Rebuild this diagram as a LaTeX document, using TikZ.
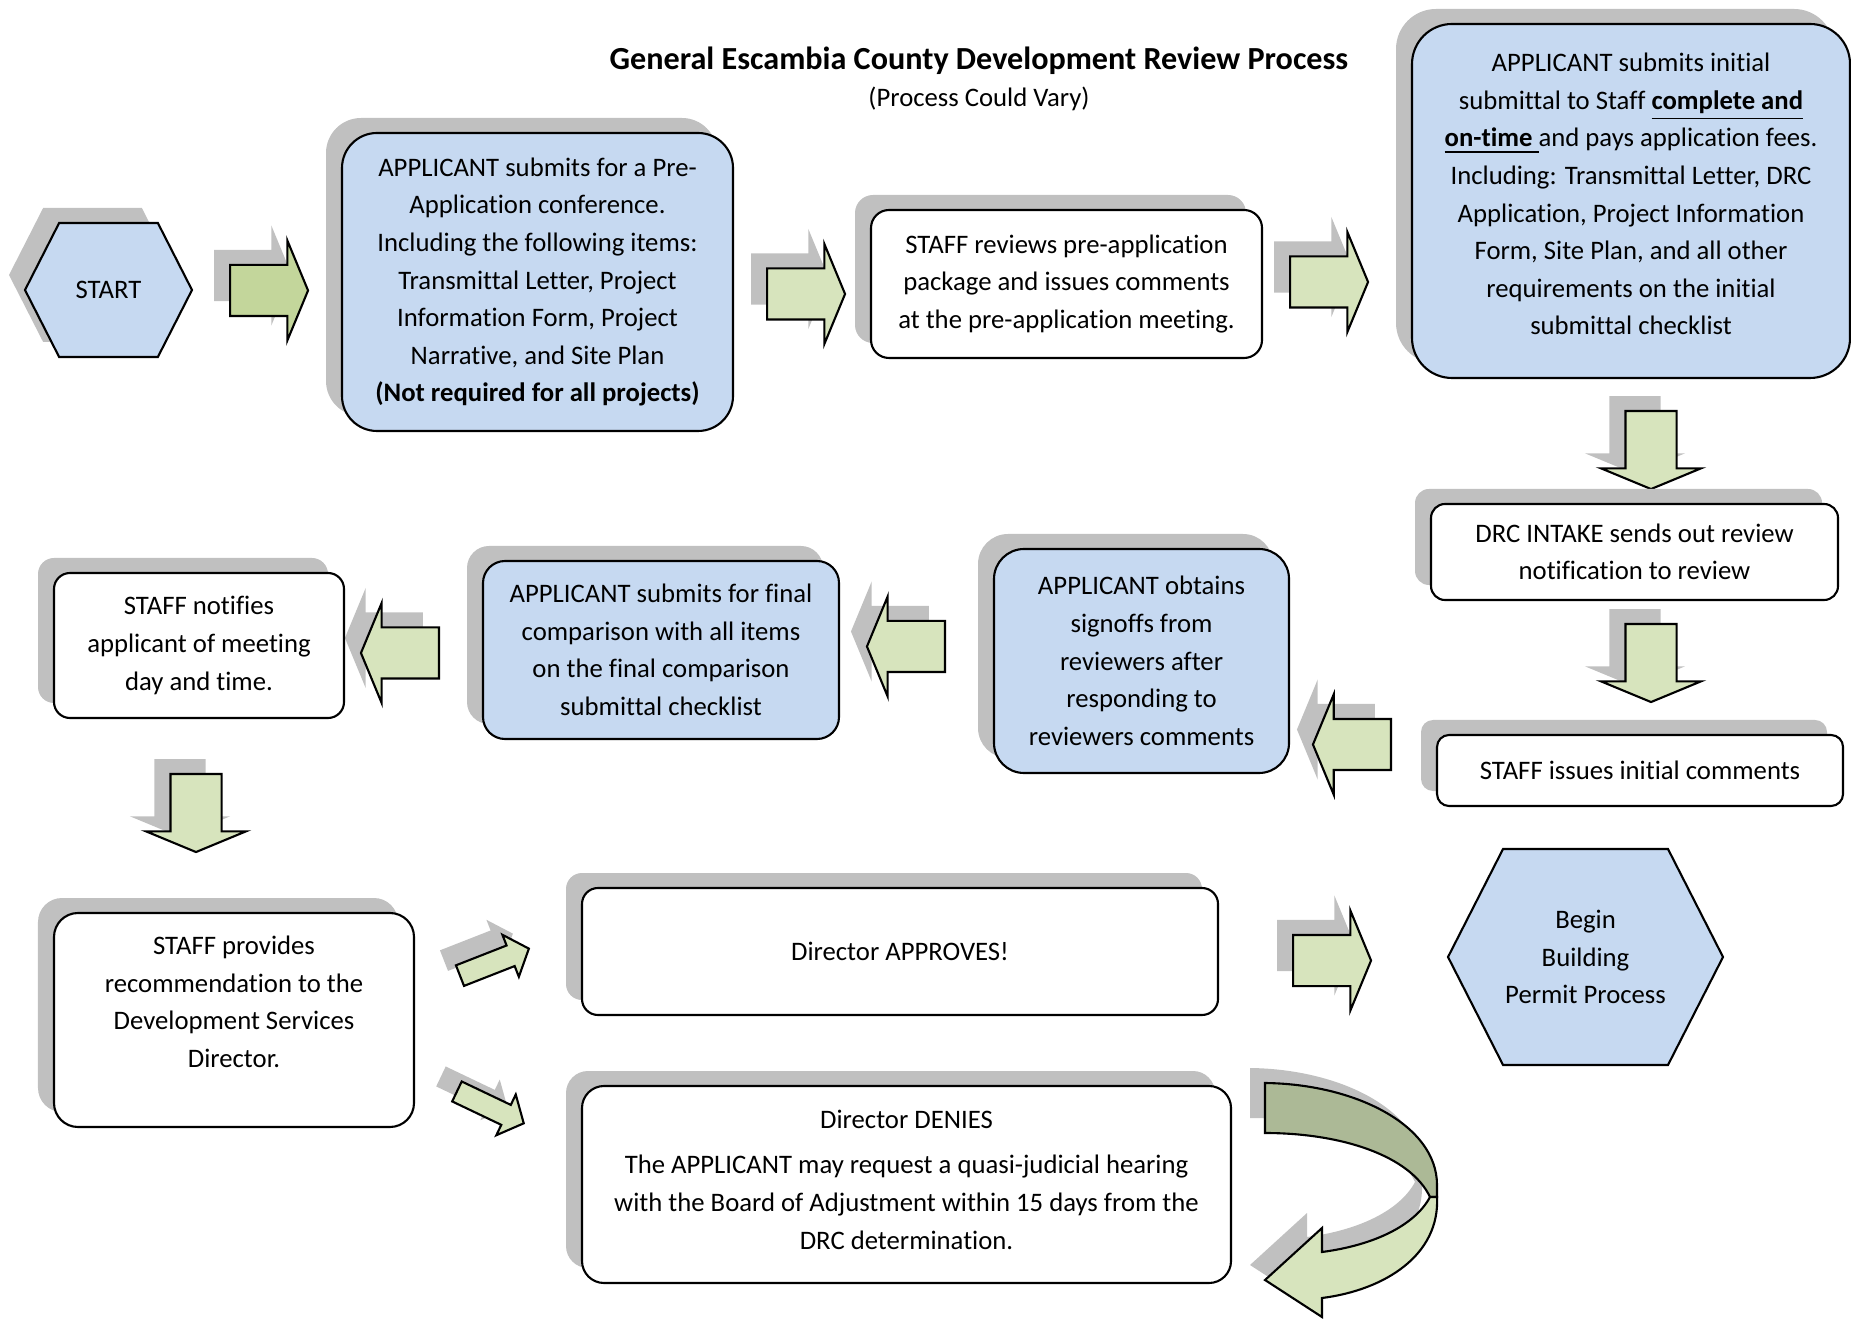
\documentclass[tikz,border=0pt]{standalone}
\usepackage{fontspec}
\setmainfont{Carlito}[Ligatures=NoCommon]
\usepackage{tikz}
\usetikzlibrary{shapes.arrows, shapes.symbols, shadows, positioning}

\definecolor{boxblue}{RGB}{198,217,241}
\definecolor{arrowgreen}{RGB}{215,228,189}
\definecolor{startgreen}{RGB}{195,214,155}
\definecolor{bendgreen}{RGB}{172,185,150}
\definecolor{shadowgray}{RGB}{192,192,192}

\begin{document}
\begin{tikzpicture}[x=1cm, y=-1cm,
  font=\fontsize{7.6}{10.7}\selectfont,
  boxshadow/.style={drop shadow={fill=shadowgray, opacity=1, shadow xshift=-0.16cm, shadow yshift=0.15cm}},
  procbox/.style={draw, line width=0.6pt, align=center, inner sep=0pt, boxshadow},
  bluebox/.style={procbox, fill=boxblue},
  whitebox/.style={procbox, fill=white},
  hexbox/.style={signal, signal to=west and east, signal pointer angle=126, draw, line width=0.6pt, fill=boxblue, align=center, inner sep=0pt},
  blockarrow/.style={single arrow, draw, line width=0.6pt, fill=arrowgreen, inner sep=0.245cm, single arrow head extend=0.245cm, single arrow tip angle=135, minimum height=0.78cm, anchor=tail, boxshadow},
  slimarrow/.style={blockarrow, inner sep=0.10cm, single arrow head extend=0.115cm, single arrow tip angle=98, minimum height=0.74cm}
]
\useasboundingbox (0,0) rectangle (18.51,13.26);

% Title
\node[font=\fontsize{9.15}{11}\selectfont\bfseries] (title) at (9.79,0.605) {General Escambia County Development Review Process};
\node (subtitle) at (9.79,0.99) {(Process Could Vary)};

% Top row
\node[hexbox, minimum width=1.67cm, minimum height=1.34cm, boxshadow] (start) at (1.085,2.90) {START};
\node[blockarrow, fill=startgreen] (arr1) at (2.29,2.905) {};
\node[bluebox, minimum width=3.91cm, minimum height=2.98cm, rounded corners=0.35cm] (pre) at (5.375,2.82)
  {APPLICANT submits for a Pre-\\Application conference.\\Including the following items:\\Transmittal Letter, Project\\Information Form, Project\\Narrative, and Site Plan\\\textbf{(Not required for all projects)}};
\node[blockarrow] (arr2) at (7.66,2.94) {};
\node[whitebox, minimum width=3.91cm, minimum height=1.48cm, rounded corners=0.18cm] (review) at (10.665,2.84)
  {STAFF reviews pre-application\\package and issues comments\\at the pre-application meeting.};
\node[blockarrow] (arr3) at (12.89,2.82) {};
\node[bluebox, minimum width=4.38cm, minimum height=3.54cm, rounded corners=0.4cm] (initial) at (16.31,2.01)
  {APPLICANT submits initial\\submittal to Staff \underline{\textbf{complete and}}\\\underline{\textbf{on-time\ }}and pays application fees.\\Including: Transmittal Letter, DRC\\Application, Project Information\\Form, Site Plan, and all other\\requirements on the initial\\submittal checklist\\[-0.237cm]\mbox{}};

% Right column
\node[blockarrow, shape border rotate=270] (arr4) at (16.51,4.10) {};
\node[whitebox, minimum width=4.07cm, minimum height=0.96cm, rounded corners=0.14cm] (intake) at (16.345,5.52)
  {DRC INTAKE sends out review\\notification to review};
\node[blockarrow, shape border rotate=270] (arr5) at (16.51,6.23) {};
\node[whitebox, minimum width=4.06cm, minimum height=0.71cm, rounded corners=0.12cm] (issue) at (16.40,7.705)
  {STAFF issues initial comments};

% Middle row (right to left)
\node[blockarrow, shape border rotate=180] (arr6) at (13.92,7.445) {};
\node[bluebox, minimum width=2.95cm, minimum height=2.24cm, rounded corners=0.3cm] (signoff) at (11.415,6.61)
  {APPLICANT obtains\\signoffs from\\reviewers after\\responding to\\reviewers comments};
\node[blockarrow, shape border rotate=180] (arr7) at (9.46,6.465) {};
\node[bluebox, minimum width=3.56cm, minimum height=1.78cm, rounded corners=0.22cm] (final) at (6.61,6.50)
  {APPLICANT submits for final\\comparison with all items\\on the final comparison\\submittal checklist};
\node[blockarrow, shape border rotate=180] (arr8) at (4.40,6.53) {};
\node[whitebox, minimum width=2.90cm, minimum height=1.45cm, rounded corners=0.16cm] (notify) at (1.99,6.455)
  {STAFF notifies\\applicant of meeting\\day and time.};
\node[blockarrow, shape border rotate=270] (arr9) at (1.96,7.73) {};

% Bottom rows
\node[whitebox, minimum width=3.60cm, minimum height=2.14cm, rounded corners=0.24cm] (recommend) at (2.34,10.20)
  {STAFF provides\\recommendation to the\\Development Services\\Director.\\[-0.01cm]\mbox{}};
\node[slimarrow, rotate=21.4] (arr10) at (4.59,9.76) {};
\node[slimarrow, rotate=-25.5] (arr11) at (4.56,10.91) {};
\node[whitebox, minimum width=6.36cm, minimum height=1.27cm, rounded corners=0.16cm] (approve) at (9.00,9.515)
  {Director APPROVES!};
\node[whitebox, minimum width=6.49cm, minimum height=1.97cm, rounded corners=0.22cm] (deny) at (9.065,11.845)
  {Director DENIES\\[2.3pt]The APPLICANT may request a quasi-judicial hearing\\with the Board of Adjustment within 15 days from the\\DRC determination.\\[-0.277cm]\mbox{}};
\node[blockarrow] (arr12) at (12.92,9.605) {};
\node[hexbox, minimum width=2.75cm, minimum height=2.16cm] (begin) at (15.855,9.57)
  {Begin\\Building\\Permit Process};

% U-turn arrow back from the denial
\begin{scope}[shift={(-0.15,-0.15)}]
\fill[shadowgray] (12.65,10.83) .. controls (13.55,10.84) and (14.37,11.25) .. (14.37,11.85) -- (14.37,11.97)
  -- (14.30,11.97) .. controls (14.10,11.55) and (13.40,11.33) .. (12.65,11.33) -- cycle;
\fill[shadowgray] (14.30,11.97) -- (14.37,11.97) .. controls (14.40,12.55) and (13.85,12.90) .. (13.22,12.98)
  -- (13.22,13.17) -- (12.65,12.80) -- (13.22,12.28) -- (13.22,12.52)
  .. controls (13.75,12.45) and (14.15,12.25) .. (14.30,11.97) -- cycle;
\end{scope}
\draw[line width=0.6pt, fill=bendgreen] (12.65,10.83) .. controls (13.55,10.84) and (14.37,11.25) .. (14.37,11.85) -- (14.37,11.97)
  -- (14.30,11.97) .. controls (14.10,11.55) and (13.40,11.33) .. (12.65,11.33) -- cycle;
\draw[line width=0.6pt, fill=arrowgreen] (14.30,11.97) -- (14.37,11.97) .. controls (14.40,12.55) and (13.85,12.90) .. (13.22,12.98)
  -- (13.22,13.17) -- (12.65,12.80) -- (13.22,12.28) -- (13.22,12.52)
  .. controls (13.75,12.45) and (14.15,12.25) .. (14.30,11.97) -- cycle;
\end{tikzpicture}
\end{document}
